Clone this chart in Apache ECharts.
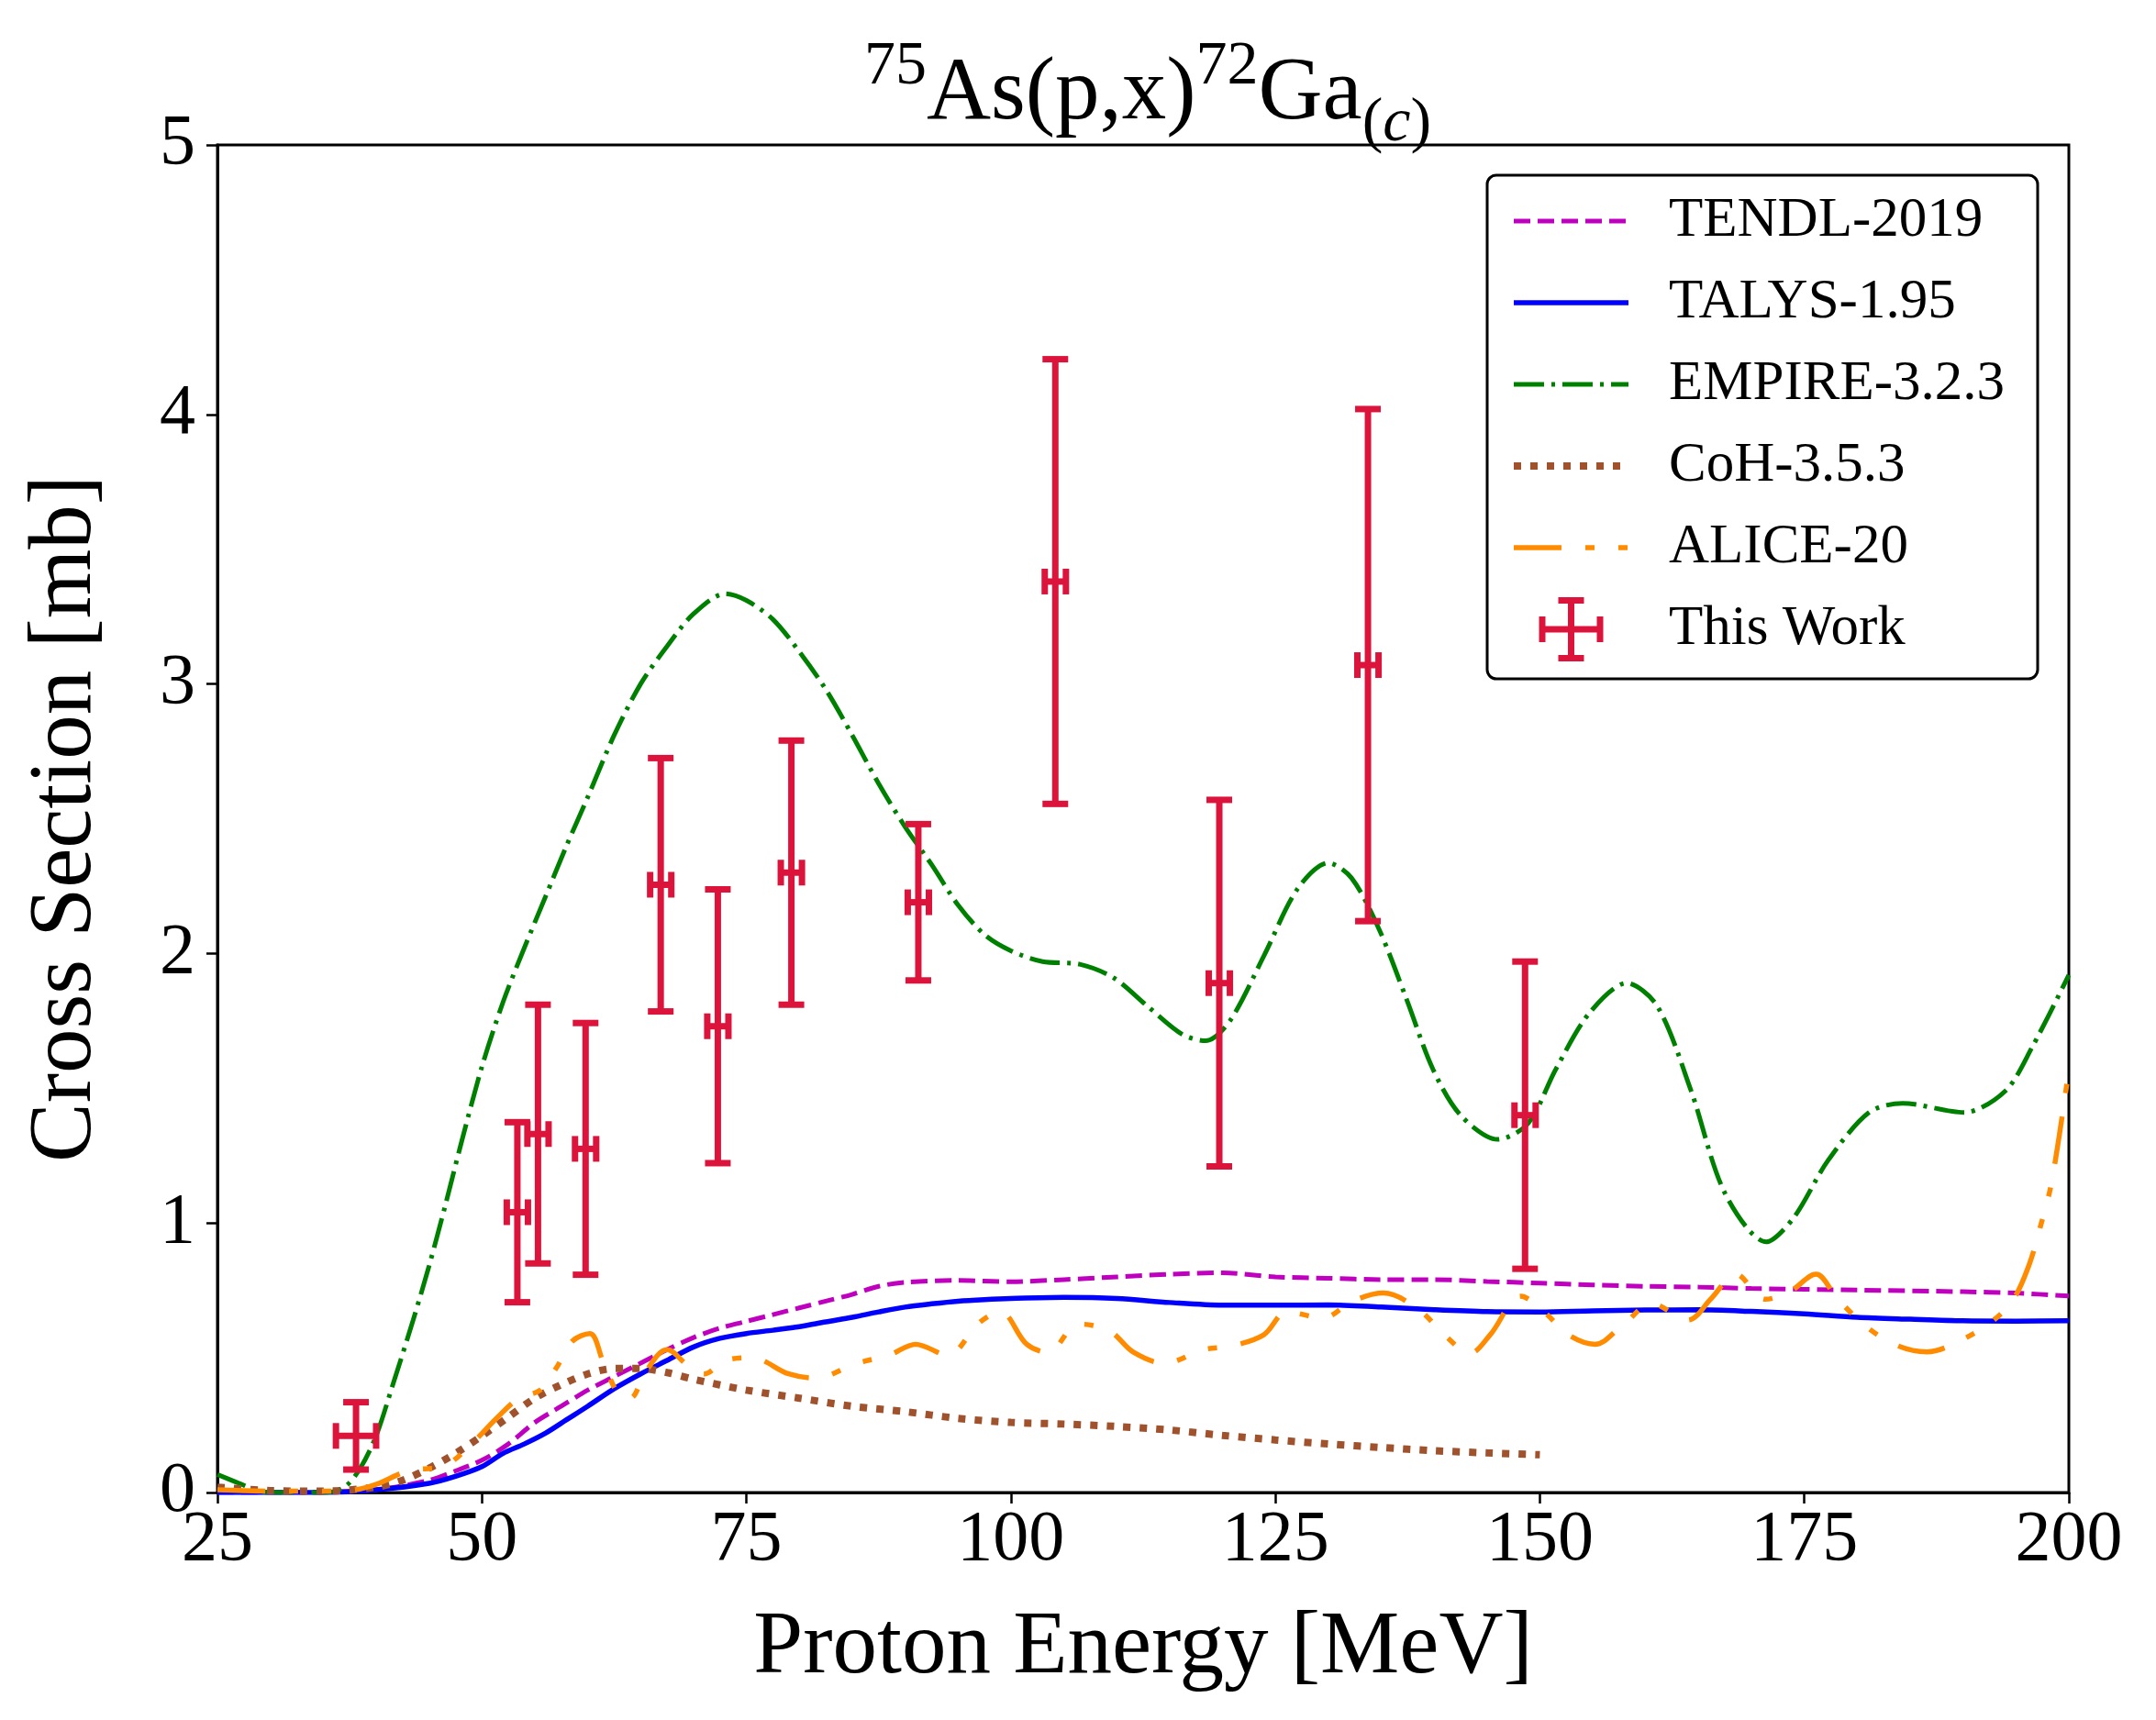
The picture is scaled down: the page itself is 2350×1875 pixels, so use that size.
<!DOCTYPE html>
<html>
<head>
<meta charset="utf-8">
<title>75As(p,x)72Ga cross section</title>
<script src="https://cdn.jsdelivr.net/npm/echarts@6/dist/echarts.min.js"></script>
<style>
  html, body { margin: 0; padding: 0; background: #fff; }
  #main { width: 2350px; height: 1875px; }
</style>
</head>
<body>
<div id="main"></div>
<script>
// data (energy in MeV, cross section in mb)
const tendlE  = [25, 30, 35, 40, 45, 47.5, 50, 52.5, 55, 57.5, 60, 62.5, 65, 67.5, 70, 72.5, 75, 77.5, 80, 82.5, 85, 87.5, 90, 95, 100, 105, 110, 115, 120, 125, 130, 135, 140, 145, 150, 155, 160, 165, 170, 180, 190, 195, 200];
const tendlXS = [0, 0, 0.002, 0.01, 0.045, 0.08, 0.12, 0.18, 0.26, 0.32, 0.38, 0.43, 0.48, 0.53, 0.575, 0.61, 0.635, 0.66, 0.685, 0.71, 0.735, 0.765, 0.78, 0.787, 0.782, 0.79, 0.80, 0.81, 0.815, 0.80, 0.795, 0.79, 0.79, 0.783, 0.777, 0.77, 0.765, 0.762, 0.757, 0.751, 0.745, 0.74, 0.729];

const talysE  = [25, 35, 40, 45, 47.5, 50, 52, 54, 56, 58, 60, 62.5, 65, 67.5, 70, 72.5, 75, 77.5, 80, 82.5, 85, 87.5, 90, 92.5, 95, 97.5, 100, 105, 110, 115, 120, 125, 130, 135, 140, 145, 150, 155, 160, 165, 170, 175, 180, 185, 190, 195, 200];
const talysXS = [0, 0, 0.01, 0.034, 0.06, 0.096, 0.145, 0.18, 0.22, 0.27, 0.32, 0.385, 0.44, 0.49, 0.54, 0.572, 0.59, 0.602, 0.615, 0.633, 0.65, 0.67, 0.688, 0.70, 0.71, 0.716, 0.72, 0.724, 0.72, 0.705, 0.695, 0.695, 0.696, 0.688, 0.678, 0.671, 0.670, 0.674, 0.677, 0.678, 0.672, 0.663, 0.65, 0.643, 0.637, 0.636, 0.637];

const empireE  = [25, 27, 29, 31, 35, 37, 38.5, 40, 41.5, 43.5, 45, 46.5, 48, 50, 52, 54, 56, 58, 60, 62.5, 65, 67.5, 70, 73, 75, 77.5, 80, 82.5, 85, 87.5, 90, 92.5, 95, 97.5, 100, 103, 106.5, 109.7, 112.9, 116.2, 118.4, 120.7, 123.9, 127.1, 130, 132.2, 134.8, 137.4, 139.9, 142.5, 146, 148.9, 151.5, 154.7, 158.2, 161.1, 164.3, 167.5, 171.4, 174, 177.2, 181.1, 184.3, 190.1, 194, 196.5, 200];
const empireXS = [0.067, 0.035, 0.005, 0, 0, 0.02, 0.09, 0.21, 0.39, 0.64, 0.84, 1.06, 1.29, 1.58, 1.82, 2.02, 2.21, 2.40, 2.58, 2.81, 3.00, 3.14, 3.26, 3.335, 3.31, 3.24, 3.12, 2.98, 2.81, 2.63, 2.47, 2.33, 2.18, 2.07, 2.01, 1.97, 1.96, 1.91, 1.805, 1.70, 1.676, 1.75, 1.99, 2.24, 2.336, 2.28, 2.09, 1.83, 1.57, 1.40, 1.31, 1.37, 1.57, 1.78, 1.89, 1.805, 1.49, 1.11, 0.93, 1.02, 1.23, 1.41, 1.444, 1.41, 1.49, 1.65, 1.92];

const cohE  = [25, 30, 35, 40, 42.5, 45, 47.5, 50, 52.5, 55, 57.5, 60, 62.5, 65, 67.5, 70, 75, 80, 85, 90, 95, 100, 105, 110, 115, 120, 125, 130, 135, 140, 145, 150];
const cohXS = [0.02, 0.007, 0.005, 0.02, 0.045, 0.09, 0.145, 0.21, 0.28, 0.35, 0.40, 0.44, 0.46, 0.46, 0.445, 0.42, 0.38, 0.35, 0.32, 0.30, 0.275, 0.26, 0.254, 0.245, 0.232, 0.212, 0.195, 0.18, 0.167, 0.155, 0.147, 0.14];

const aliceE  = [25, 30, 35, 38, 40, 43, 46.5, 49, 51.5, 53.5, 55.5, 57, 58.5, 60.2, 61.5, 63, 64, 65.5, 67.5, 69.5, 71, 73, 75.5, 79, 81.5, 85.5, 88.5, 91, 94, 97, 99, 101.5, 103.5, 106.4, 109.3, 111.6, 114.5, 118.2, 121, 123.9, 126.1, 129.5, 132.3, 135.2, 138.6, 141.1, 143.4, 145.3, 148.2, 150.4, 152.7, 155.2, 157.8, 160.6, 164, 166.2, 168.5, 171.3, 173.6, 176.1, 178.1, 180.9, 183.8, 186.6, 189.4, 192.8, 194.8, 196.2, 197.3, 198.4, 200];
const aliceXS = [0.01, 0.005, 0.005, 0.01, 0.03, 0.08, 0.10, 0.18, 0.28, 0.35, 0.38, 0.46, 0.56, 0.59, 0.48, 0.36, 0.35, 0.45, 0.53, 0.47, 0.44, 0.49, 0.50, 0.44, 0.425, 0.48, 0.51, 0.55, 0.51, 0.63, 0.67, 0.55, 0.52, 0.625, 0.60, 0.52, 0.48, 0.53, 0.545, 0.585, 0.67, 0.648, 0.71, 0.74, 0.677, 0.58, 0.517, 0.585, 0.728, 0.67, 0.585, 0.55, 0.62, 0.70, 0.64, 0.72, 0.81, 0.717, 0.745, 0.81, 0.72, 0.614, 0.545, 0.522, 0.557, 0.637, 0.72, 0.84, 0.985, 1.157, 1.57];

// measurements ("This Work")
const expE    = [38.1, 53.35, 55.3, 59.8, 66.9, 72.3, 79.25, 91.25, 104.2, 119.7, 133.75, 148.6];
const expEErr = [1.9, 1.0, 1.0, 1.0, 1.0, 1.0, 1.0, 1.0, 1.0, 1.0, 1.0, 1.0];
const expXS   = [0.21, 1.04, 1.33, 1.275, 2.255, 1.73, 2.30, 2.19, 3.38, 1.89, 3.07, 1.40];
const expErr  = [0.125, 0.334, 0.48, 0.467, 0.47, 0.508, 0.49, 0.29, 0.825, 0.68, 0.95, 0.57];

const xTicks = [25, 50, 75, 100, 125, 150, 175, 200];
const yTicks = [0, 1, 2, 3, 4, 5];

const FONT = 'Liberation Serif';
const RED = '#DC143C';

function pairs(xs, ys) { return xs.map((x, i) => [x, ys[i]]); }

const errData = expE.map((e, i) => [e, expXS[i], expEErr[i], expErr[i]]);

// line styles shared by the series and their legend entries
const styles = {
  'TENDL-2019':   { color: '#BF00BF', width: 5,   type: [18, 8] },
  'TALYS-1.95':   { color: '#0000FF', width: 5.5, type: 'solid' },
  'EMPIRE-3.2.3': { color: '#008000', width: 5,   type: [33, 8, 4, 8] },
  'CoH-3.5.3':    { color: '#A0522D', width: 8,   type: [8, 10] },
  'ALICE-20':     { color: '#FF8C00', width: 5.5, type: [52, 26, 10, 26, 10, 26] }
};

function lineSeries(name, xs, ys, smooth) {
  return {
    name: name, type: 'line', data: pairs(xs, ys),
    showSymbol: false, symbol: 'none', smooth: smooth, z: 3,
    itemStyle: { color: styles[name].color },
    lineStyle: Object.assign({}, styles[name])
  };
}

function legendLine(name) {
  return {
    name: name,
    itemStyle: { color: 'rgba(0,0,0,0)', opacity: 0, borderWidth: 0 },
    lineStyle: Object.assign({ opacity: 1 }, styles[name])
  };
}

const chart = echarts.init(document.getElementById('main'), null, { renderer: 'canvas' });

const rich = (size, lh, va, extra) => Object.assign({
  fontFamily: FONT, fontSize: size, fontWeight: 'normal', color: '#000', lineHeight: lh, verticalAlign: va
}, extra || {});

const option = {
  animation: false,
  backgroundColor: '#fff',
  title: {
    text: '{sup|75}{m|As(p,x)}{sup|72}{m|Ga}{sub|(}{subi|c}{sub|)}',
    left: 1246,
    top: 34,
    textAlign: 'center',
    textStyle: {
      fontFamily: FONT, fontWeight: 'normal', color: '#000',
      rich: {
        m:    rich(97, 130, 'middle'),
        sup:  rich(68, 80, 'top'),
        sub:  rich(68, 84, 'bottom'),
        subi: rich(68, 84, 'bottom', { fontStyle: 'italic' })
      }
    }
  },
  grid: { left: 237, right: 95, top: 158, bottom: 248, show: true, borderColor: '#000', borderWidth: 3, backgroundColor: '#fff' },
  legend: {
    orient: 'vertical',
    right: 129,
    top: 191,
    padding: [15, 36, 19, 25],
    itemWidth: 125,
    itemHeight: 70,
    itemGap: 19,
    backgroundColor: '#fff',
    borderColor: '#000',
    borderWidth: 3,
    borderRadius: 10,
    textStyle: { fontFamily: FONT, fontSize: 61, color: '#000', lineHeight: 70, padding: [0, 0, 0, 39] },
    data: [
      legendLine('TENDL-2019'),
      legendLine('TALYS-1.95'),
      legendLine('EMPIRE-3.2.3'),
      legendLine('CoH-3.5.3'),
      legendLine('ALICE-20'),
      { name: 'This Work',
        icon: 'path://M31.5,0h7v70h-7z M0,31.5h70v7h-70z M21,0h28v7h-28z M21,63h28v7h-28z M0,21h7v28h-7z M63,21h7v28h-7z',
        itemStyle: { color: RED, borderWidth: 0 } }
    ]
  },
  xAxis: {
    type: 'value',
    min: 25, max: 200, interval: 25,
    name: 'Proton Energy [MeV]',
    nameLocation: 'middle',
    nameGap: 122,
    nameTextStyle: { fontFamily: FONT, fontSize: 97, color: '#000' },
    axisLine: { show: true, onZero: false, lineStyle: { color: '#000', width: 3 } },
    axisTick: { show: true, inside: false, length: 12, lineStyle: { color: '#000', width: 2.5 } },
    axisLabel: { fontFamily: FONT, fontSize: 78, color: '#000', margin: 14,
      formatter: v => (xTicks.indexOf(v) >= 0 ? String(v) : '') },
    splitLine: { show: false }
  },
  yAxis: {
    type: 'value',
    min: 0, max: 5, interval: 1,
    name: 'Cross Section [mb]',
    nameLocation: 'middle',
    nameGap: 116,
    nameTextStyle: { fontFamily: FONT, fontSize: 97, color: '#000' },
    axisLine: { show: true, onZero: false, lineStyle: { color: '#000', width: 3 } },
    axisTick: { show: true, inside: false, length: 12, lineStyle: { color: '#000', width: 2.5 } },
    axisLabel: { fontFamily: FONT, fontSize: 78, color: '#000', margin: 24,
      formatter: v => (yTicks.indexOf(v) >= 0 ? String(v) : '') },
    splitLine: { show: false }
  },
  series: [
    lineSeries('TENDL-2019', tendlE, tendlXS, 0.3),
    lineSeries('TALYS-1.95', talysE, talysXS, 0.3),
    lineSeries('EMPIRE-3.2.3', empireE, empireXS, 0.3),
    lineSeries('CoH-3.5.3', cohE, cohXS, 0.3),
    lineSeries('ALICE-20', aliceE, aliceXS, 0.35),
    {
      name: 'This Work', type: 'custom', data: errData, z: 5,
      itemStyle: { color: RED },
      encode: { x: 0, y: 1 },
      renderItem: function (params, api) {
        const x = api.value(0), y = api.value(1), ex = api.value(2), ey = api.value(3);
        const top = api.coord([x, y + ey]);
        const bot = api.coord([x, y - ey]);
        const lft = api.coord([x - ex, y]);
        const rgt = api.coord([x + ex, y]);
        const cap = 14;
        const st = { stroke: RED, lineWidth: 7, fill: null };
        const seg = (x1, y1, x2, y2) => ({ type: 'line', shape: { x1, y1, x2, y2 }, style: st });
        return {
          type: 'group',
          children: [
            seg(top[0], top[1], bot[0], bot[1]),
            seg(lft[0], lft[1], rgt[0], rgt[1]),
            seg(top[0] - cap, top[1], top[0] + cap, top[1]),
            seg(bot[0] - cap, bot[1], bot[0] + cap, bot[1]),
            seg(lft[0], lft[1] - cap, lft[0], lft[1] + cap),
            seg(rgt[0], rgt[1] - cap, rgt[0], rgt[1] + cap)
          ]
        };
      }
    }
  ]
};

chart.setOption(option);
window.addEventListener('resize', () => chart.resize());
</script>
</body>
</html>
